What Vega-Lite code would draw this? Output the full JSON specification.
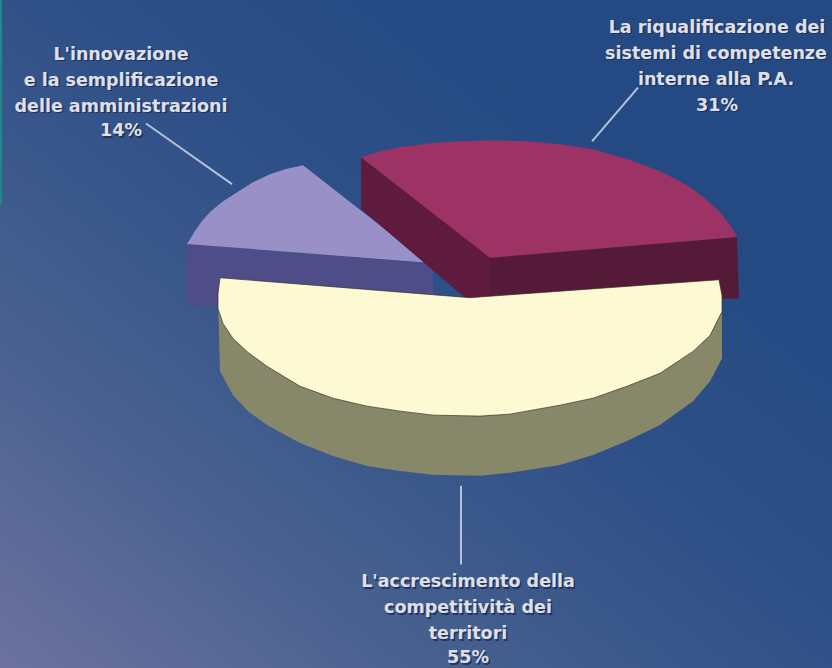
{"$schema":"https://vega.github.io/schema/vega-lite/v6.json","autosize":{"type":"fit","contains":"padding"},"width":832,"height":668,"padding":0,"background":"#2a4c85","config":{"view":{"stroke":null}},
"datasets":{
"shapes":[
{"part":"a1 purple side","o":1,"x":187,"y":245},{"part":"a1 purple side","o":2,"x":432,"y":265},{"part":"a1 purple side","o":3,"x":434,"y":296},{"part":"a1 purple side","o":4,"x":300,"y":300},{"part":"a1 purple side","o":5,"x":218,"y":308},{"part":"a1 purple side","o":6,"x":187,"y":308},
{"part":"a2 purple top","o":1,"x":428,"y":264},{"part":"a2 purple top","o":2,"x":303,"y":166},{"part":"a2 purple top","o":3,"x":285,"y":170},{"part":"a2 purple top","o":4,"x":270,"y":175},{"part":"a2 purple top","o":5,"x":253,"y":183},{"part":"a2 purple top","o":6,"x":237,"y":193},{"part":"a2 purple top","o":7,"x":222,"y":203},{"part":"a2 purple top","o":8,"x":210,"y":213},{"part":"a2 purple top","o":9,"x":202,"y":222},{"part":"a2 purple top","o":10,"x":195,"y":232},{"part":"a2 purple top","o":11,"x":187,"y":245},
{"part":"b1 maroon inner","o":1,"x":361,"y":158},{"part":"b1 maroon inner","o":2,"x":490,"y":258},{"part":"b1 maroon inner","o":3,"x":490,"y":298},{"part":"b1 maroon inner","o":4,"x":465,"y":299},{"part":"b1 maroon inner","o":5,"x":361,"y":210},
{"part":"b2 maroon front","o":1,"x":490,"y":258},{"part":"b2 maroon front","o":2,"x":737,"y":238},{"part":"b2 maroon front","o":3,"x":739,"y":300},{"part":"b2 maroon front","o":4,"x":490,"y":300},
{"part":"b3 maroon top","o":1,"x":361,"y":158},{"part":"b3 maroon top","o":2,"x":380,"y":152},{"part":"b3 maroon top","o":3,"x":400,"y":148},{"part":"b3 maroon top","o":4,"x":430,"y":144},{"part":"b3 maroon top","o":5,"x":460,"y":142},{"part":"b3 maroon top","o":6,"x":495,"y":141},{"part":"b3 maroon top","o":7,"x":527,"y":142},{"part":"b3 maroon top","o":8,"x":560,"y":145},{"part":"b3 maroon top","o":9,"x":593,"y":150},{"part":"b3 maroon top","o":10,"x":628,"y":160},{"part":"b3 maroon top","o":11,"x":660,"y":172},{"part":"b3 maroon top","o":12,"x":678,"y":181},{"part":"b3 maroon top","o":13,"x":693,"y":190},{"part":"b3 maroon top","o":14,"x":708,"y":202},{"part":"b3 maroon top","o":15,"x":720,"y":213},{"part":"b3 maroon top","o":16,"x":730,"y":226},{"part":"b3 maroon top","o":17,"x":737,"y":238},{"part":"b3 maroon top","o":18,"x":490,"y":259},
{"part":"c1 cream side","o":1,"x":218,"y":300},{"part":"c1 cream side","o":2,"x":220,"y":373},{"part":"c1 cream side","o":3,"x":233,"y":397},{"part":"c1 cream side","o":4,"x":248,"y":413},{"part":"c1 cream side","o":5,"x":267,"y":427},{"part":"c1 cream side","o":6,"x":300,"y":445},{"part":"c1 cream side","o":7,"x":333,"y":458},{"part":"c1 cream side","o":8,"x":367,"y":468},{"part":"c1 cream side","o":9,"x":400,"y":473},{"part":"c1 cream side","o":10,"x":433,"y":477},{"part":"c1 cream side","o":11,"x":480,"y":478},{"part":"c1 cream side","o":12,"x":510,"y":475},{"part":"c1 cream side","o":13,"x":560,"y":467},{"part":"c1 cream side","o":14,"x":593,"y":457},{"part":"c1 cream side","o":15,"x":627,"y":443},{"part":"c1 cream side","o":16,"x":660,"y":427},{"part":"c1 cream side","o":17,"x":693,"y":403},{"part":"c1 cream side","o":18,"x":710,"y":383},{"part":"c1 cream side","o":19,"x":722,"y":360},{"part":"c1 cream side","o":20,"x":722,"y":300},
{"part":"c2 cream top","o":1,"x":220,"y":279},{"part":"c2 cream top","o":2,"x":470,"y":299},{"part":"c2 cream top","o":3,"x":719,"y":281},{"part":"c2 cream top","o":4,"x":722,"y":297},{"part":"c2 cream top","o":5,"x":722,"y":313},{"part":"c2 cream top","o":6,"x":710,"y":337},{"part":"c2 cream top","o":7,"x":693,"y":353},{"part":"c2 cream top","o":8,"x":660,"y":375},{"part":"c2 cream top","o":9,"x":627,"y":388},{"part":"c2 cream top","o":10,"x":593,"y":400},{"part":"c2 cream top","o":11,"x":560,"y":407},{"part":"c2 cream top","o":12,"x":510,"y":416},{"part":"c2 cream top","o":13,"x":480,"y":418},{"part":"c2 cream top","o":14,"x":433,"y":417},{"part":"c2 cream top","o":15,"x":400,"y":413},{"part":"c2 cream top","o":16,"x":367,"y":408},{"part":"c2 cream top","o":17,"x":333,"y":400},{"part":"c2 cream top","o":18,"x":300,"y":388},{"part":"c2 cream top","o":19,"x":267,"y":368},{"part":"c2 cream top","o":20,"x":248,"y":354},{"part":"c2 cream top","o":21,"x":233,"y":340},{"part":"c2 cream top","o":22,"x":223,"y":325},{"part":"c2 cream top","o":23,"x":218,"y":310},{"part":"c2 cream top","o":24,"x":218,"y":295}
],
"leaders":[
{"k":"innovazione","o":1,"x":146,"y":124},{"k":"innovazione","o":2,"x":232,"y":185},
{"k":"riqualificazione","o":1,"x":638,"y":88},{"k":"riqualificazione","o":2,"x":592,"y":142},
{"k":"accrescimento","o":1,"x":461,"y":488},{"k":"accrescimento","o":2,"x":461,"y":567}
],
"labels":[
{"t":"L'innovazione","x":121,"y":55},{"t":"e la semplificazione","x":121,"y":81},{"t":"delle amministrazioni","x":121,"y":107},{"t":"14%","x":121,"y":132},
{"t":"La riqualificazione dei","x":717,"y":28},{"t":"sistemi di competenze","x":716,"y":54},{"t":"interne alla P.A.","x":716,"y":80},{"t":"31%","x":717,"y":106},
{"t":"L'accrescimento della","x":468,"y":585},{"t":"competitività dei","x":468,"y":611},{"t":"territori","x":468,"y":637},{"t":"55%","x":468,"y":661}
]},
"encoding":{"x":{"field":"x","type":"quantitative","axis":null,"scale":{"domain":[0,832],"nice":false,"zero":false}},"y":{"field":"y","type":"quantitative","axis":null,"scale":{"domain":[668,0],"nice":false,"zero":false}}},
"layer":[
{"data":{"values":[{"a":1}]},"mark":{"type":"rect","fill":{"gradient":"linear","x1":0,"y1":1,"x2":0.75,"y2":0.25,"stops":[{"offset":0,"color":"#6d729f"},{"offset":0.35,"color":"#47608f"},{"offset":0.7,"color":"#2f5088"},{"offset":1,"color":"#254a83"}]}},"encoding":{"x":{"value":0},"x2":{"value":832},"y":{"value":0},"y2":{"value":668}}},
{"data":{"values":[{"x":0,"x2":2,"y":0,"y2":205}]},"mark":{"type":"rect","fill":"#1f8a84"},"encoding":{"x2":{"field":"x2"},"y2":{"field":"y2"}}},
{"data":{"name":"shapes"},"mark":{"type":"line","interpolate":"linear-closed","strokeWidth":0,"filled":true},"encoding":{"fill":{"field":"part","type":"nominal","legend":null,"scale":{"domain":["a1 purple side","a2 purple top","b1 maroon inner","b2 maroon front","b3 maroon top","c1 cream side","c2 cream top"],"range":["#4f4d88","#9890c6","#5e1b3e","#551a38","#9d3265","#87876a","#fdf9d3"]}},"detail":{"field":"part"},"order":{"field":"o","type":"ordinal"}}},
{"data":{"name":"shapes"},"transform":[{"filter":"datum.part === 'c2 cream top'"}],"mark":{"type":"line","interpolate":"linear-closed","stroke":"#35352a","strokeWidth":1,"opacity":0.7},"encoding":{"order":{"field":"o","type":"ordinal"}}},
{"data":{"name":"leaders"},"mark":{"type":"line","stroke":"#b4c0dc","strokeWidth":2},"encoding":{"detail":{"field":"k"},"order":{"field":"o","type":"ordinal"}}},
{"data":{"name":"labels"},"mark":{"type":"text","font":"DejaVu Sans","fontWeight":"bold","fontSize":17.5,"fill":"#1e2a55","dx":1.5,"dy":1.5,"align":"center","baseline":"middle","opacity":0.8},"encoding":{"text":{"field":"t"}}},
{"data":{"name":"labels"},"mark":{"type":"text","font":"DejaVu Sans","fontWeight":"bold","fontSize":17.5,"fill":"#dfe0e6","align":"center","baseline":"middle"},"encoding":{"text":{"field":"t"}}}
]}
